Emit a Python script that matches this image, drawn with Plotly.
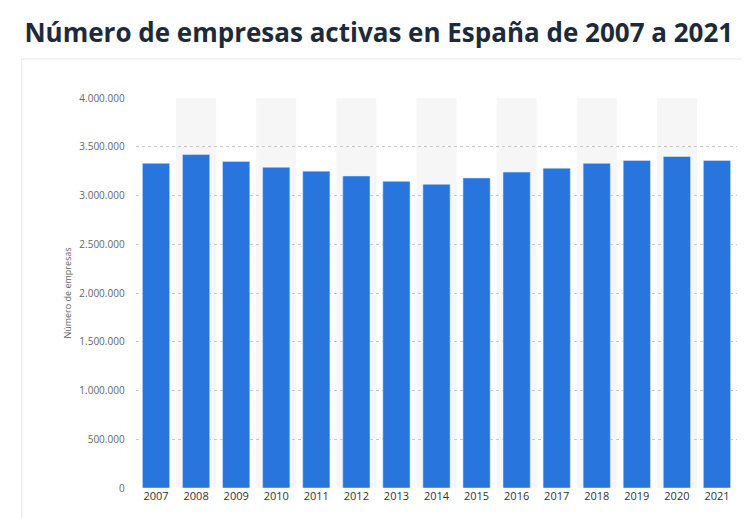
import plotly.graph_objects as go

years = [str(y) for y in range(2007, 2022)]
empresas = [3330000, 3420000, 3350000, 3290000, 3250000, 3200000, 3145000, 3115000,
            3180000, 3240000, 3280000, 3330000, 3360000, 3400000, 3360000]

fig = go.Figure()
fig.add_trace(go.Bar(x=years, y=empresas, marker_color="#2876dd", width=0.68,
                     hovertemplate="%{x}: %{y:,.0f}<extra></extra>"))

# card behind the plot (added first so the bands sit on top of it)
fig.add_shape(type="rect", xref="paper", yref="paper", x0=-0.19, x1=1.05, y0=-0.12, y1=1.1,
              fillcolor="white", line=dict(color="#e6e6e6", width=1), layer="below")

# alternating column bands
for i in range(1, len(years), 2):
    fig.add_shape(type="rect", xref="x", yref="paper", x0=i - 0.5, x1=i + 0.5,
                  y0=0, y1=1, fillcolor="#f6f6f6", line_width=0, layer="below")

fig.update_layout(
    width=749, height=518,
    title=dict(text="<b>Número de empresas activas en España de 2007 a 2021</b>",
               x=0.022, xanchor="left", y=0.97,
               font=dict(family="Open Sans", size=26, color="#1e2a3a")),
    separators=",.",
    margin=dict(l=128, r=20, t=90, b=38),
    plot_bgcolor="rgba(0,0,0,0)", paper_bgcolor="white",
    showlegend=False,
    font=dict(family="Open Sans", size=11, color="#555"),
    xaxis=dict(tickfont=dict(size=11, color="#333"), showline=False, ticks=""),
    yaxis=dict(range=[0, 4000000], dtick=500000, tickformat=",.0f",
               gridcolor="#c8c8c8", griddash="dot", zeroline=False,
               ticksuffix="    ", tickfont=dict(size=10, color="#666"),
               title=dict(text="Número de empresas", font=dict(size=9, color="#666"), standoff=6)),
)

fig.write_html("out.html")
